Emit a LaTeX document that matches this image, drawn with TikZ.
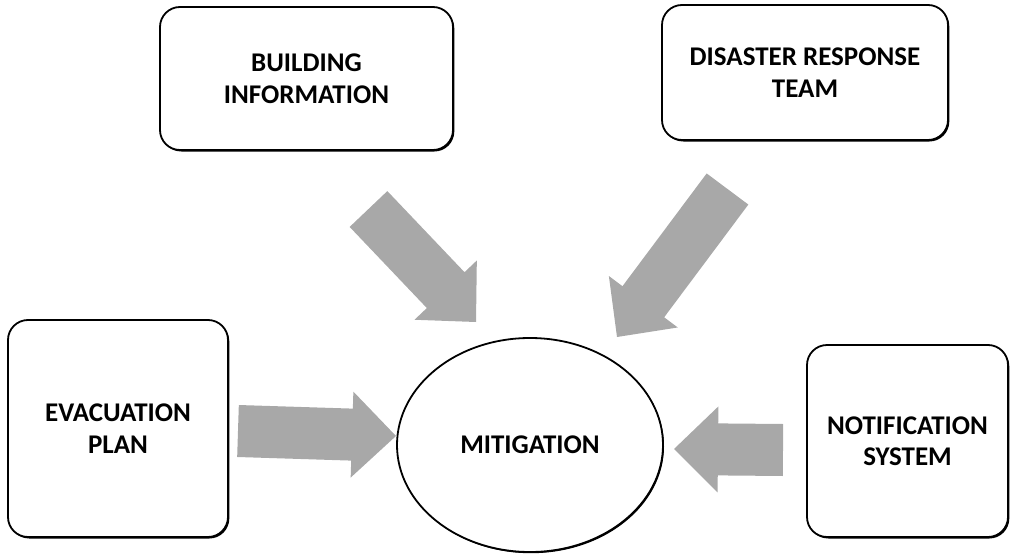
\documentclass[tikz,border=0pt]{standalone}
\usepackage{fontspec}
\setmainfont{Carlito}
\usetikzlibrary{calc,shadows,shapes.geometric}
\definecolor{arrowgray}{HTML}{A8A8A8}
\tikzset{
  boxtext/.style={font=\bfseries\fontsize{27}{31.5}\selectfont, align=center},
  box/.style={boxtext, draw=black, line width=1.8pt, fill=white,
    rounded corners=20pt, inner sep=0pt,
    drop shadow={shadow xshift=1.3pt, shadow yshift=-1.5pt, fill=black, opacity=1}},
  hub/.style={boxtext, ellipse, draw=black, line width=1.8pt, fill=white, inner sep=0pt,
    drop shadow={shadow xshift=1pt, shadow yshift=-1.2pt, fill=black, opacity=1}},
  arrowfill/.style={fill=arrowgray},
}
% block arrow from a start point (middle of the tail) to the tip
\newcommand\blockarrow[2]{%
  \coordinate (hb) at ($(#2)!44pt!(#1)$);
  \fill[arrowfill] ($(#1)!26pt!90:(#2)$) -- ($(hb)!26pt!90:(#2)$)
    -- ($(hb)!43pt!90:(#2)$) -- (#2) -- ($(hb)!43pt!-90:(#2)$)
    -- ($(hb)!26pt!-90:(#2)$) -- ($(#1)!26pt!-90:(#2)$) -- cycle;}
\begin{document}
\begin{tikzpicture}[x=1pt, y=-1pt]
  \useasboundingbox (0,0) rectangle (1010,554);

  % source boxes
  \node[box, minimum width=293pt, minimum height=143pt] (bi) at (306.5,78.5) {BUILDING\\INFORMATION};
  \node[box, minimum width=286pt, minimum height=135pt] (drt) at (805,72.5) {DISASTER RESPONSE\\TEAM};
  \node[box, minimum width=220pt, minimum height=217pt] (ep) at (118,428.5) {EVACUATION\\PLAN};
  \node[box, minimum width=201pt, minimum height=192pt] (ns) at (907.5,441) {NOTIFICATION\\SYSTEM};

  % central goal
  \node[hub, minimum width=266pt, minimum height=214pt] (mit) at (530,445) {MITIGATION};

  % arrow end points
  \coordinate (biA) at (368.5,209);  \coordinate (biB) at (476,322);
  \coordinate (drtA) at (727.5,189); \coordinate (drtB) at (617,337);
  \coordinate (epA) at (238,431);    \coordinate (epB) at (396,436);
  \coordinate (nsA) at (783,450);    \coordinate (nsB) at (674,449);

  \blockarrow{biA}{biB}
  \blockarrow{drtA}{drtB}
  \blockarrow{epA}{epB}
  \blockarrow{nsA}{nsB}
\end{tikzpicture}
\end{document}
